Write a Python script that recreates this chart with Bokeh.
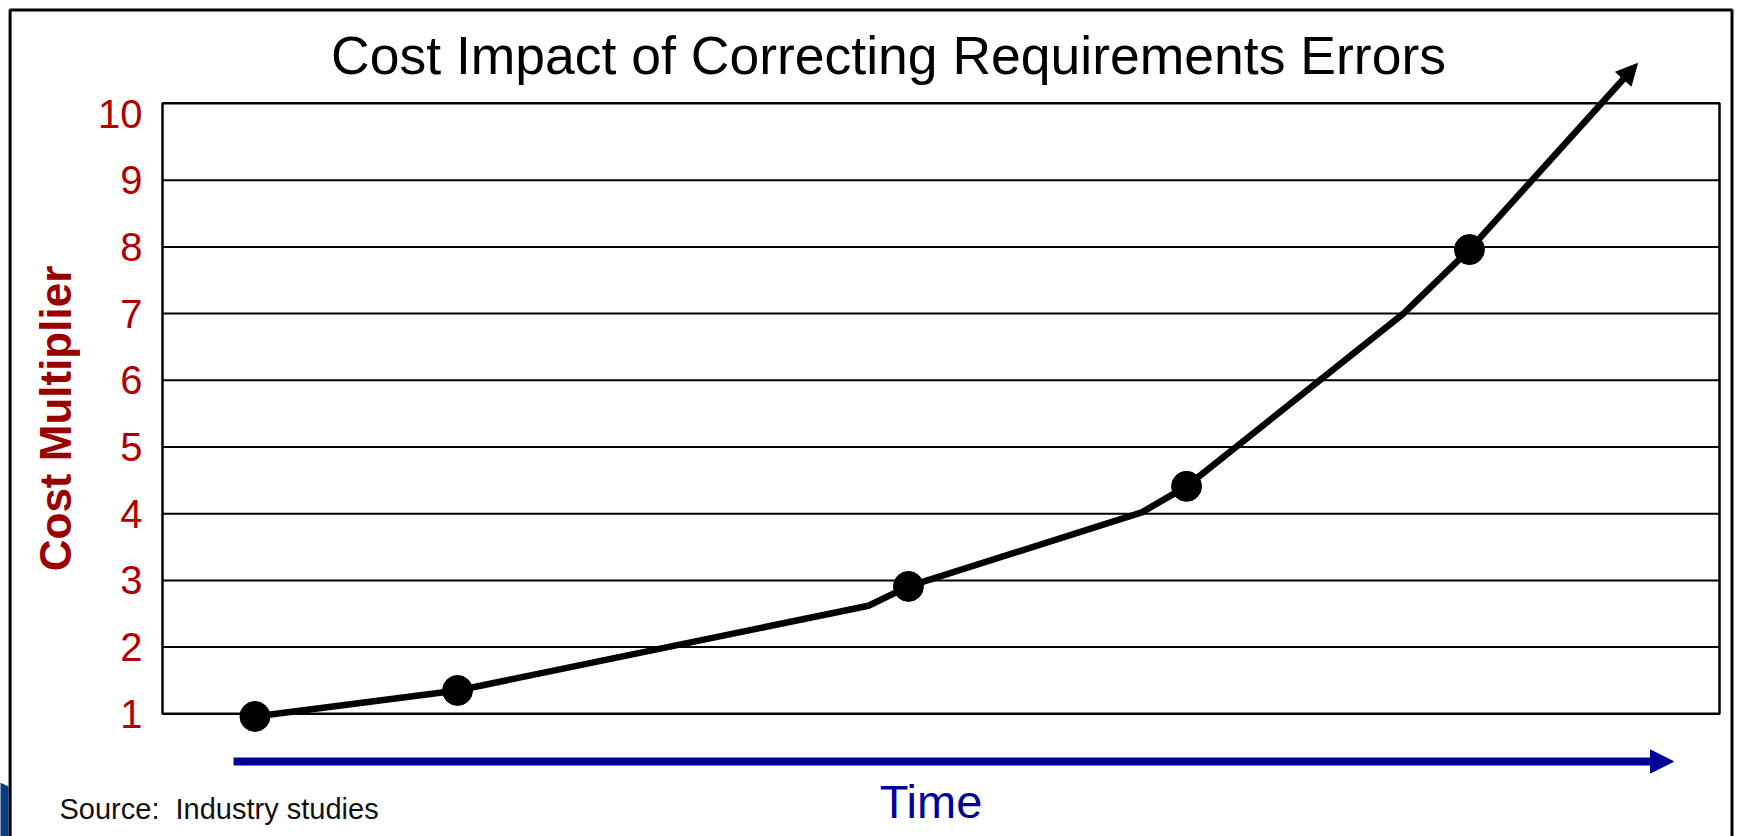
from bokeh.plotting import figure
from bokeh.models import Range1d, FixedTicker, Arrow, NormalHead
from bokeh.embed import file_html
from bokeh.resources import INLINE
from bokeh.core.properties import value

# ---- data ---------------------------------------------------------------
# Points in the lifecycle where a requirements error is corrected (time 0-100)
stage_time = [5.94, 18.95, 47.91, 65.77, 83.94]
stage_cost = [0.96, 1.35, 2.91, 4.41, 7.96]

# Trend curve running through the stages, with its bends in between
curve_time = [5.94, 18.95, 45.34, 47.91, 62.9, 65.77, 79.7, 83.94]
curve_cost = [0.96, 1.35, 2.62, 2.91, 4.02, 4.41, 7.0, 7.96]

# Open-ended continuation of the trend past the last stage
trend_end_time = 94.73
trend_end_cost = 10.75

cost_ticks = [1, 2, 3, 4, 5, 6, 7, 8, 9, 10]
grid_levels = [2, 3, 4, 5, 6, 7, 8, 9]

title_text = "Cost Impact of Correcting Requirements Errors"
y_title = "Cost Multiplier"
x_title = "Time"
source_text = "Source:\u00a0 Industry studies"

# ---- layout -------------------------------------------------------------
W, H = 1741, 836
BOX_LEFT = 162      # pixel column where time == 0
PX_X = 15.57        # pixels per time unit
PX_Y = 66.7         # pixels per cost unit
BASE_PX = 713.3     # pixel row where cost == 1


def xd(px):
    return (px - BOX_LEFT) / PX_X


def yd(py):
    return 1 + (BASE_PX - py) / PX_Y


FONT = "Liberation Sans"
BOX_TOP = yd(102.7)

p = figure(
    width=W, height=H,
    x_range=Range1d(xd(0), xd(W)), y_range=Range1d(yd(H), yd(0)),
    output_backend="svg", toolbar_location=None,
    min_border=0,
)
p.title.visible = False
p.xaxis.visible = False
p.grid.visible = False
p.outline_line_color = None
p.background_fill_color = "white"
p.border_fill_color = "white"

# cost axis pinned to the left edge of the plot box
ax = p.yaxis[0]
ax.fixed_location = 0
ax.ticker = FixedTicker(ticks=cost_ticks)
ax.axis_line_color = None
ax.major_tick_line_color = None
ax.minor_tick_line_color = None
ax.major_tick_out = 0
ax.major_tick_in = 0
ax.major_label_standoff = 20
ax.major_label_text_font = FONT
ax.major_label_text_font_size = "40px"
ax.major_label_text_color = "#B00000"
ax.axis_label = y_title
ax.axis_label_text_font = FONT
ax.axis_label_text_font_style = "bold"
ax.axis_label_text_font_size = "44px"
ax.axis_label_text_color = "#990000"
ax.axis_label_standoff = 15

# slide frame and corner accent
p.line([xd(9.6), xd(9.6), xd(1731.5), xd(1731.5)],
       [yd(860), yd(9.5), yd(9.5), yd(860)],
       line_color="black", line_width=3)
p.patch([xd(-5), xd(8.2), xd(8.2), xd(-5)],
        [yd(780), yd(786), yd(860), yd(860)],
        fill_color="#0B3A7E", line_color=None)

# plot box and horizontal rules
p.segment(x0=[0] * len(grid_levels), x1=[100] * len(grid_levels),
          y0=grid_levels, y1=grid_levels, line_color="black", line_width=2)
p.quad(left=[0], right=[100], bottom=[1], top=[BOX_TOP],
       fill_color=None, line_color="black", line_width=2.5)

# trend line and stage markers
p.line(curve_time, curve_cost, line_color="black", line_width=6.5, line_join="round")
p.add_layout(Arrow(
    x_start=stage_time[-1], y_start=stage_cost[-1],
    x_end=trend_end_time, y_end=trend_end_cost,
    line_color="black", line_width=6.5,
    end=NormalHead(size=21, fill_color="black", line_color="black", line_width=1),
))
p.scatter(stage_time, stage_cost, size=30, color="black")

# time arrow
p.add_layout(Arrow(
    x_start=xd(233), y_start=yd(761), x_end=xd(1673), y_end=yd(761),
    line_color="#000099", line_width=8,
    end=NormalHead(size=23, fill_color="#000099", line_color="#000099", line_width=1),
))

# texts
p.text(x=[xd(888)], y=[yd(55)], text=[title_text],
       text_font=value(FONT), text_font_size="53.5px", text_color="black",
       text_align="center", text_baseline="middle")
p.text(x=[xd(930.5)], y=[yd(801)], text=[x_title],
       text_font=value(FONT), text_font_size="47px", text_color="#000099",
       text_align="center", text_baseline="middle")
p.text(x=[xd(59)], y=[yd(808)], text=[source_text],
       text_font=value(FONT), text_font_size="29px", text_color="#111111",
       text_align="left", text_baseline="middle")

open("out.html", "w").write(file_html(p, INLINE))
